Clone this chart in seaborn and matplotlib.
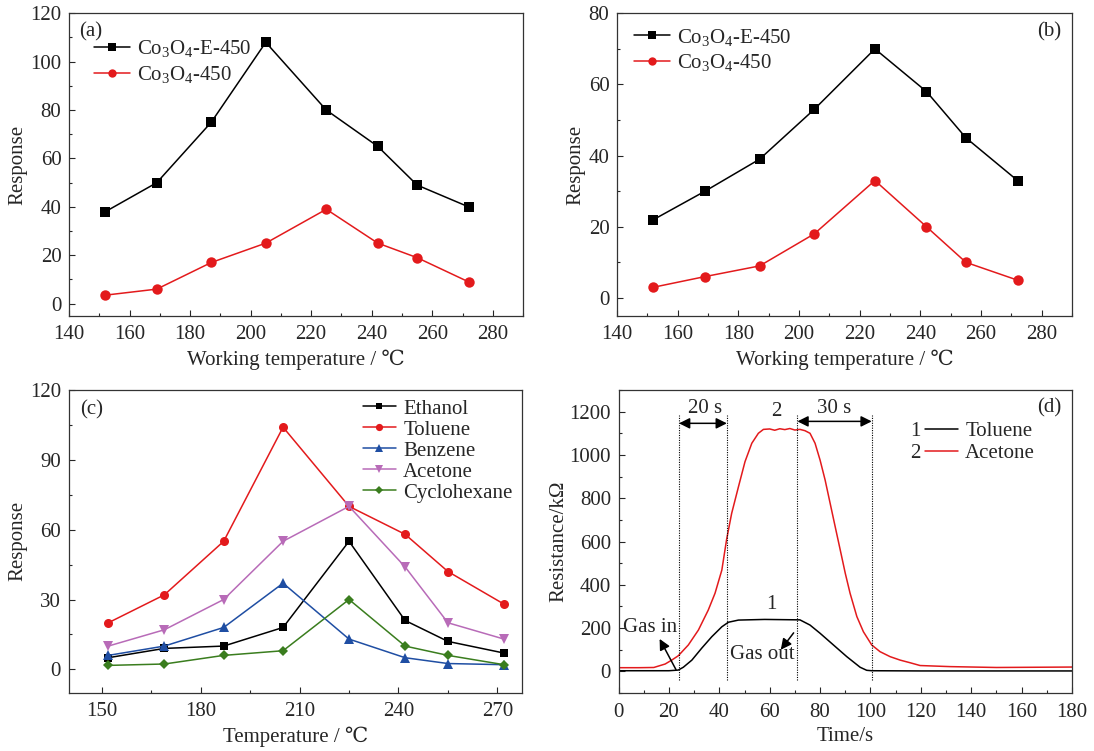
import matplotlib
matplotlib.use("Agg")
import matplotlib.pyplot as plt
from matplotlib.ticker import MultipleLocator
from matplotlib.lines import Line2D
import pandas as pd
import seaborn as sns

# ---- data -------------------------------------------------------------
temps = [152, 169, 187, 205, 225, 242, 255, 272]

a_e450 = [38, 50, 75, 108, 80, 65, 49, 40]
a_450 = [3.5, 6, 17, 25, 39, 25, 19, 9]

b_e450 = [22, 30, 39, 53, 70, 58, 45, 33]
b_450 = [3, 6, 9, 18, 33, 20, 10, 5]

gases = ["Ethanol", "Toluene", "Benzene", "Acetone", "Cyclohexane"]
ethanol = [5, 9, 10, 18, 55, 21, 12, 7]
toluene = [20, 32, 55, 104, 70, 58, 42, 28]
benzene = [6, 10, 18, 37, 13, 5, 2.5, 2]
acetone = [10, 17, 30, 55, 70, 44, 20, 13]
cyclohexane = [1.7, 2.3, 6, 8, 30, 10, 6, 2]

t_tol = [0, 10, 20, 23.7, 25.7, 29.1, 33, 37, 41, 43.6, 47.6, 58, 65, 72,
         76, 80, 85.3, 90.6, 95.9, 98.5, 100.5, 120, 150, 180]
r_tol = [3, 3, 3, 6, 19, 52, 107, 160, 206, 227, 237, 240, 239, 238,
         214, 176, 122, 68, 19, 5, 3, 2, 2, 2]

t_ace = [0, 8, 14, 18.5, 21.1, 23.7, 27.7, 31.7, 35.6, 38.3, 41.0, 42.9,
         44.9, 47.6, 50.2, 52.9, 55.5, 57.5, 60, 62, 64, 66, 68, 70, 72, 74,
         76, 78, 80, 82, 84, 86, 88, 90, 91.9, 94.6, 97.2, 100.5, 103.8,
         107.8, 111.8, 115.7, 119.7, 131.6, 150, 165, 180]
r_ace = [17, 17, 18, 34, 52, 72, 122, 191, 283, 361, 468, 610,
         730, 853, 969, 1054, 1100, 1118, 1120, 1114, 1121, 1117, 1122, 1115,
         1118, 1112, 1100, 1054, 976, 884, 776, 668, 561, 453, 361, 253, 183,
         122, 91, 68, 52, 40, 27, 22, 18, 19, 20]

gas_marks = [24, 43, 71, 100.5]

# ---- style ------------------------------------------------------------
sns.set_theme(style="ticks")
plt.rcParams.update({
    "font.family": ["Liberation Serif", "DejaVu Serif", "Noto Sans CJK SC"],
    "mathtext.fontset": "custom",
    "mathtext.rm": "Liberation Serif",
    "mathtext.it": "Liberation Serif:italic",
    "mathtext.default": "regular",
    "font.size": 15,
    "axes.labelsize": 15,
    "xtick.labelsize": 15,
    "ytick.labelsize": 15,
    "axes.edgecolor": "#333333",
    "axes.linewidth": 0.9,
    "xtick.direction": "in",
    "ytick.direction": "in",
    "xtick.major.size": 4,
    "ytick.major.size": 4,
    "xtick.minor.size": 2,
    "ytick.minor.size": 2,
    "xtick.major.width": 0.8,
    "ytick.major.width": 0.8,
    "xtick.minor.width": 0.8,
    "ytick.minor.width": 0.8,
    "xtick.major.pad": 7,
    "ytick.major.pad": 5.5,
    "axes.labelpad": 4,
})

RED = "#e31a1c"
BLUE = "#1f4ea3"
PURPLE = "#b86bb8"
GREEN = "#3a7d1e"

fig = plt.figure(figsize=(10.94, 7.51), dpi=100)
ax_a = fig.add_axes([0.0631, 0.5796, 0.415, 0.4027])
ax_b = fig.add_axes([0.5640, 0.5796, 0.4160, 0.4027])
ax_c = fig.add_axes([0.0628, 0.0777, 0.4145, 0.4031])
ax_d = fig.add_axes([0.5654, 0.0772, 0.4145, 0.4035])


def style_axes(ax, xmaj, xmin, ymaj, ymin):
    ax.xaxis.set_major_locator(MultipleLocator(xmaj))
    ax.xaxis.set_minor_locator(MultipleLocator(xmin))
    ax.yaxis.set_major_locator(MultipleLocator(ymaj))
    ax.yaxis.set_minor_locator(MultipleLocator(ymin))
    ax.tick_params(which="both", top=False, right=False)
    for s in ax.spines.values():
        s.set_visible(True)


def two_series(ax, y_e, y_p):
    sns.lineplot(x=temps, y=y_e, ax=ax, color="black", marker="s",
                 markersize=7, markeredgewidth=0, linewidth=1.1,
                 label="Co$_3$O$_4$-E-450")
    sns.lineplot(x=temps, y=y_p, ax=ax, color=RED, marker="o",
                 markersize=7.5, markeredgewidth=0, linewidth=1.1,
                 label="Co$_3$O$_4$-450")


# (a)
two_series(ax_a, a_e450, a_450)
ax_a.set_xlim(140, 290)
ax_a.set_ylim(-5, 120)
style_axes(ax_a, 20, 10, 20, 10)
ax_a.set_xlabel("Working temperature / ℃")
ax_a.set_ylabel("Response", labelpad=2)
ax_a.legend(loc="upper left", bbox_to_anchor=(0.056, 0.917), frameon=False,
            borderaxespad=0, borderpad=0, handlelength=1.7,
            handletextpad=0.35, labelspacing=0.22, markerscale=0.8,
            fontsize=15)
ax_a.text(0.047, 0.939, "(a)", transform=ax_a.transAxes, fontsize=15,
          ha="center", va="center")

# (b)
two_series(ax_b, b_e450, b_450)
ax_b.set_xlim(140, 290)
ax_b.set_ylim(-5, 80)
style_axes(ax_b, 20, 10, 20, 10)
ax_b.set_xlabel("Working temperature / ℃")
ax_b.set_ylabel("Response", labelpad=2)
ax_b.legend(loc="upper left", bbox_to_anchor=(0.038, 0.956), frameon=False,
            borderaxespad=0, borderpad=0, handlelength=1.7,
            handletextpad=0.35, labelspacing=0.22, markerscale=0.8,
            fontsize=15)
ax_b.text(0.950, 0.939, "(b)", transform=ax_b.transAxes, fontsize=15,
          ha="center", va="center")

# (c)
gas_series = [ethanol, toluene, benzene, acetone, cyclohexane]
gas_colors = ["black", RED, BLUE, PURPLE, GREEN]
gas_markers = ["s", "o", "^", "v", "D"]
gas_msize = [6, 6.5, 6.5, 6.5, 5.5]
for name, vals, col, mk, ms in zip(gases, gas_series, gas_colors,
                                   gas_markers, gas_msize):
    sns.lineplot(x=temps, y=vals, ax=ax_c, color=col, marker=mk,
                 markersize=ms, markeredgewidth=0, linewidth=1.1, label=name)
ax_c.set_xlim(140, 277.5)
ax_c.set_ylim(-10, 120)
style_axes(ax_c, 30, 15, 30, 15)
ax_c.set_xlabel("Temperature / ℃")
ax_c.set_ylabel("Response", labelpad=2)
ax_c.legend(loc="upper left", bbox_to_anchor=(0.648, 0.970), frameon=False,
            borderaxespad=0, borderpad=0, handlelength=1.6,
            handletextpad=0.35, labelspacing=0.07, markerscale=0.8,
            fontsize=15)
ax_c.text(0.05, 0.934, "(c)", transform=ax_c.transAxes, fontsize=15,
          ha="center", va="center")

# (d)
df_d = pd.concat([
    pd.DataFrame({"t": t_tol, "r": r_tol, "gas": "Toluene"}),
    pd.DataFrame({"t": t_ace, "r": r_ace, "gas": "Acetone"}),
])
sns.lineplot(data=df_d, x="t", y="r", hue="gas",
             palette={"Toluene": "black", "Acetone": RED},
             linewidth=1.1, ax=ax_d, legend=False)
ax_d.set_xlim(0, 180)
ax_d.set_ylim(-100, 1300)
style_axes(ax_d, 20, 10, 200, 100)
ax_d.set_xlabel("Time/s")
ax_d.set_ylabel("Resistance/kΩ", labelpad=1)

for tm in gas_marks:
    ax_d.plot([tm, tm], [-40, 1185], color="black", linestyle=(0, (1, 1.2)),
              linewidth=0.8)

arrow_kw = dict(arrowstyle="<|-|>", color="black", lw=1.1,
                mutation_scale=16, shrinkA=0, shrinkB=0)
ax_d.annotate("", xy=(gas_marks[0], 1146), xytext=(gas_marks[1], 1146),
              arrowprops=arrow_kw)
ax_d.annotate("", xy=(gas_marks[2], 1155), xytext=(gas_marks[3], 1155),
              arrowprops=arrow_kw)
ax_d.text(34.3, 1215, "20 s", ha="center", va="center", fontsize=15)
ax_d.text(85.6, 1215, "30 s", ha="center", va="center", fontsize=15)
ax_d.text(62.8, 1200, "2", ha="center", va="center", fontsize=15)
ax_d.text(60.8, 307, "1", ha="center", va="center", fontsize=15)

single_kw = dict(arrowstyle="-|>", color="black", lw=1.1, mutation_scale=16,
                 shrinkA=0, shrinkB=0)
ax_d.annotate("", xy=(16.3, 150), xytext=(22.8, 8), arrowprops=single_kw)
ax_d.text(12.5, 203, "Gas in", ha="center", va="center", fontsize=15)
ax_d.annotate("", xy=(64.4, 100), xytext=(69.5, 178), arrowprops=single_kw)
ax_d.text(57.2, 80, "Gas out", ha="center", va="center", fontsize=15)

d_handles = [Line2D([], [], color="black", lw=1.1),
             Line2D([], [], color=RED, lw=1.1)]
ax_d.legend(d_handles, ["Toluene", "Acetone"], loc="upper left",
            bbox_to_anchor=(0.675, 0.895), frameon=False, borderaxespad=0,
            borderpad=0, handlelength=1.6, handletextpad=0.35,
            labelspacing=0.1, fontsize=15)
ax_d.text(0.654, 0.862, "1", transform=ax_d.transAxes, ha="center",
          va="center", fontsize=15)
ax_d.text(0.654, 0.790, "2", transform=ax_d.transAxes, ha="center",
          va="center", fontsize=15)
ax_d.text(0.950, 0.94, "(d)", transform=ax_d.transAxes, fontsize=15,
          ha="center", va="center")

fig.savefig("out.png", dpi=100)
